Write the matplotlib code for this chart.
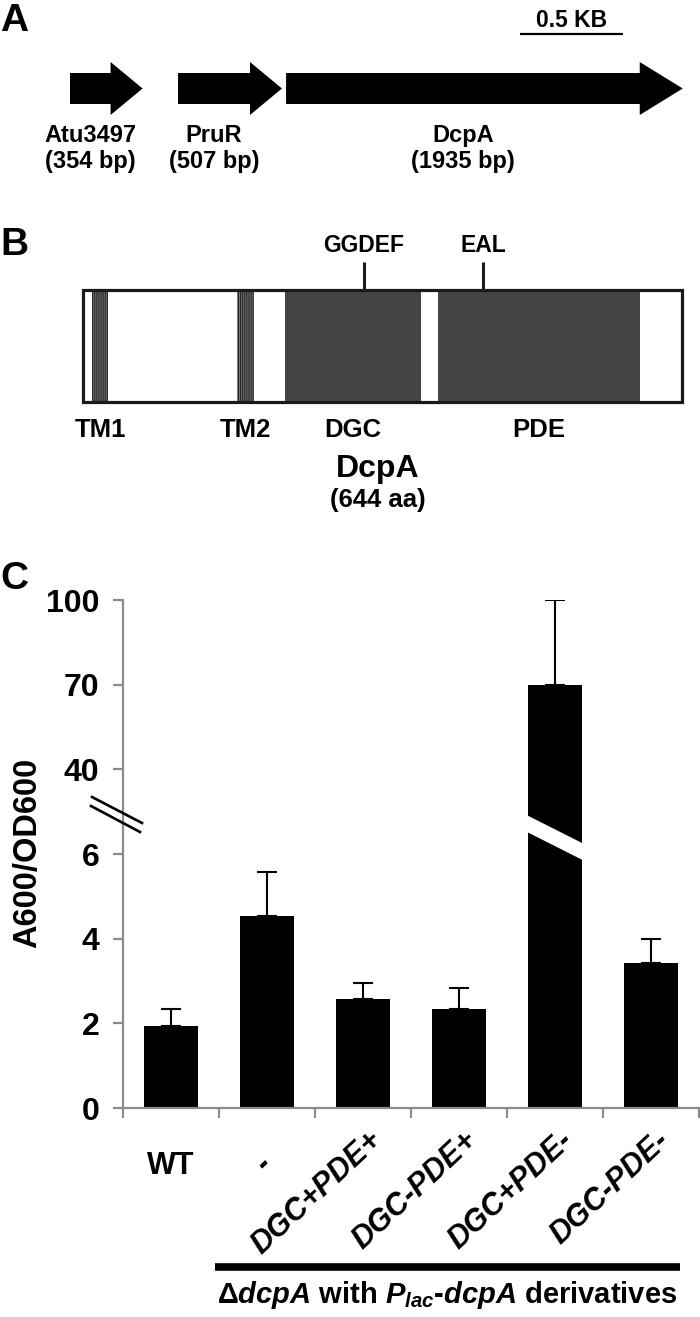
import numpy as np
import matplotlib
matplotlib.use("Agg")
import matplotlib.pyplot as plt
from matplotlib.patches import FancyArrow, Rectangle, Polygon
from matplotlib.transforms import Affine2D, blended_transform_factory
from matplotlib.lines import Line2D

# ---------------- data ----------------
# Panel A: gene organisation (bp)
gene_names = ["Atu3497", "PruR", "DcpA"]
gene_lengths_bp = [354, 507, 1935]
gene_starts_bp = [0, 527, 1054]
scale_bar_bp = 500
scale_bar_label = "0.5 KB"

# Panel B: DcpA domain architecture (aa)
protein_name = "DcpA"
protein_len_aa = 644
tm_names = ["TM1", "TM2"]
tm_starts_aa = [10, 166]
tm_ends_aa = [27, 184]
domain_names = ["DGC", "PDE"]
domain_starts_aa = [217, 382]
domain_ends_aa = [363, 599]
motif_names = ["GGDEF", "EAL"]
motif_pos_aa = [302, 430]

# Panel C: biofilm values
categories = ["WT", "-", "DGC+PDE+", "DGC-PDE+", "DGC+PDE-", "DGC-PDE-"]
values = [1.94, 4.53, 2.57, 2.34, 70.0, 3.42]
errors = [0.40, 1.04, 0.38, 0.49, 30.0, 0.57]
ytick_values = [0, 2, 4, 6, 40, 70, 100]
y_label = "A600/OD600"

# ---------------- style ----------------
plt.rcParams["font.family"] = ["Liberation Sans", "DejaVu Sans"]
plt.rcParams["font.weight"] = "bold"
plt.rcParams["mathtext.fontset"] = "custom"
plt.rcParams["mathtext.rm"] = "Liberation Sans:weight=bold"
plt.rcParams["mathtext.it"] = "Liberation Sans:style=italic:weight=bold"
plt.rcParams["mathtext.bf"] = "Liberation Sans:weight=bold"
plt.rcParams["hatch.linewidth"] = 0.9

W, H = 700, 1317
fig = plt.figure(figsize=(W / 100, H / 100), dpi=100)
t_px = Affine2D().scale(1 / W, -1 / H).translate(0, 1) + fig.transFigure

# panel letters
for letter, yb in zip(["A", "B", "C"], [31, 255, 589]):
    fig.text(0, yb, letter, transform=t_px, fontsize=28, fontweight="bold",
             ha="left", va="baseline")

# ---------------- Panel A ----------------
k_bp = 0.205  # px per bp
x0_px = 70
ax_a = fig.add_axes([0, 1 - 200 / H, 1, 200 / H])
ax_a.set_xlim(-x0_px / k_bp, (W - x0_px) / k_bp)
ax_a.set_ylim(200, 0)
ax_a.axis("off")
head_px = [32, 32, 43]
for name, start, length, hp in zip(gene_names, gene_starts_bp, gene_lengths_bp, head_px):
    arr = FancyArrow(start, 88.5, length, 0, width=31, head_width=53,
                     head_length=hp / k_bp, length_includes_head=True,
                     color="black", lw=0)
    ax_a.add_patch(arr)
    cx = start + (length - hp / k_bp) / 2
    ax_a.text(cx, 142, name, ha="center", va="baseline", fontsize=17,
              fontweight="bold")
    ax_a.text(cx, 168, f"({length} bp)", ha="center", va="baseline",
              fontsize=17, fontweight="bold")
sb_start = (520 - x0_px) / k_bp
ax_a.plot([sb_start, sb_start + scale_bar_bp], [34, 34], color="black", lw=1.6,
          solid_capstyle="butt")
ax_a.text(sb_start + scale_bar_bp / 2, 27, scale_bar_label, ha="center",
          va="baseline", fontsize=16.5, fontweight="bold")

# ---------------- Panel B ----------------
k_aa = 599 / protein_len_aa
bx0 = 83
ax_b = fig.add_axes([0, 1 - 540 / H, 1, 340 / H])
ax_b.set_xlim(-bx0 / k_aa, (W - bx0) / k_aa)
ax_b.set_ylim(540, 200)
ax_b.axis("off")
box_top, box_h = 290, 112
ax_b.add_patch(Rectangle((0, box_top), protein_len_aa, box_h, facecolor="white",
                         edgecolor="none", zorder=1))
for s, e in zip(tm_starts_aa, tm_ends_aa):
    ax_b.add_patch(Rectangle((s, box_top), e - s, box_h, facecolor="#8a8a8a",
                             edgecolor="#222222", hatch="||||||||", lw=0, zorder=2))
for s, e in zip(domain_starts_aa, domain_ends_aa):
    ax_b.add_patch(Rectangle((s, box_top), e - s, box_h, facecolor="#454545",
                             edgecolor="none", zorder=2))
ax_b.add_patch(Rectangle((0, box_top), protein_len_aa, box_h, facecolor="none",
                         edgecolor="#1a1a1a", lw=2.3, zorder=3))
for name, p in zip(motif_names, motif_pos_aa):
    ax_b.plot([p, p], [262, box_top], color="#1a1a1a", lw=2.2, zorder=3,
              solid_capstyle="butt")
    ax_b.text(p, 252, name, ha="center", va="baseline", fontsize=16.5,
              fontweight="bold")
for name, s, e in zip(tm_names + domain_names, tm_starts_aa + domain_starts_aa,
                      tm_ends_aa + domain_ends_aa):
    ax_b.text((s + e) / 2, 437, name, ha="center", va="baseline", fontsize=18.5,
              fontweight="bold")
ax_b.text(protein_len_aa / 2 - 5, 477, protein_name, ha="center", va="baseline",
          fontsize=23, fontweight="bold")
ax_b.text(protein_len_aa / 2 - 5, 507, f"({protein_len_aa} aa)", ha="center",
          va="baseline", fontsize=18.5, fontweight="bold")

# ---------------- Panel C ----------------
def fwd(v):
    v = np.asarray(v, dtype=float)
    return np.where(v <= 6, v / 2, np.where(v >= 40, 4 + (v - 40) / 30,
                                            3 + (v - 6) / 34))


def inv(p):
    p = np.asarray(p, dtype=float)
    return np.where(p <= 3, p * 2, np.where(p >= 4, 40 + (p - 4) * 30,
                                            6 + (p - 3) * 34))


ax_left, ax_right, ax_bottom, ax_top = 123, 699, 1108, 600
ax_c = fig.add_axes([ax_left / W, 1 - ax_bottom / H, (ax_right - ax_left) / W,
                     (ax_bottom - ax_top) / H])
ax_c.set_yscale("function", functions=(fwd, inv))
ax_c.set_ylim(0, 100)
x = np.arange(len(categories))
ax_c.set_xlim(-0.5, len(categories) - 0.5)
ax_c.bar(x, values, width=0.56, color="black", zorder=2)
ax_c.errorbar(x, values, yerr=[np.zeros(len(values)), errors], fmt="none",
              ecolor="black", elinewidth=1.5, capsize=7.5, capthick=1.5, zorder=4)

grey = "#8c8c8c"
for sp in ["top", "right"]:
    ax_c.spines[sp].set_visible(False)
for sp in ["left", "bottom"]:
    ax_c.spines[sp].set_color(grey)
    ax_c.spines[sp].set_linewidth(1.6)
ax_c.set_yticks(ytick_values)
ax_c.set_yticklabels([str(v) for v in ytick_values])
ax_c.yaxis.set_minor_locator(matplotlib.ticker.NullLocator())
ax_c.tick_params(axis="y", direction="out", length=7, width=1.6, color=grey,
                 labelsize=23, pad=10)
for lbl in ax_c.get_yticklabels():
    lbl.set_fontweight("bold")
ax_c.set_xticks([])
ax_c.set_xticks(np.arange(-0.5, len(categories), 1), minor=True)
ax_c.tick_params(axis="x", which="minor", direction="out", length=7, width=1.6,
                 color=grey)

# axis-break slash through the tall bar
tb = blended_transform_factory(ax_c.transData, ax_c.transAxes)
big = int(np.argmax(values))
ax_c.add_patch(Polygon([(big - 0.31, 0.578), (big + 0.31, 0.519),
                        (big + 0.31, 0.486), (big - 0.31, 0.545)],
                       closed=True, transform=tb, facecolor="white",
                       edgecolor="none", zorder=3))
# axis-break marks
for (xa, ya, xb, yb) in [(92, 797, 142, 823), (91, 806, 140, 832)]:
    fig.add_artist(Line2D([xa, xb], [ya, yb], transform=t_px, color="black",
                          lw=1.9))

# category labels
tx = blended_transform_factory(ax_c.transData, t_px)
ax_c.text(0, 1166, categories[0], transform=tx, ha="center", va="center",
          fontsize=22, fontweight="bold")
for i, cat in enumerate(categories[1:], start=1):
    if cat == "-":
        ax_x, ax_y = i + 0.0, 1161
    else:
        ax_x, ax_y = i + 0.15, 1136
    ax_c.text(ax_x, ax_y, cat, transform=tx, ha="right", va="center",
              rotation=43, rotation_mode="anchor", fontsize=22,
              fontweight="bold", fontstyle="italic", clip_on=False)

# group line and label
fig.add_artist(Line2D([215, 680], [1267, 1267], transform=t_px, color="black",
                      lw=5.5, solid_capstyle="butt"))
fig.text(447, 1303, r"Δ$\mathit{dcpA}$ with $\mathit{P_{lac}}$-$\mathit{dcpA}$ derivatives",
         transform=t_px, ha="center", va="baseline", fontsize=21,
         fontweight="bold")

# y label
fig.text(28, 853, y_label, transform=t_px, rotation=90, ha="center",
         va="center", fontsize=23.5, fontweight="bold")

fig.savefig("out.png", dpi=100)
